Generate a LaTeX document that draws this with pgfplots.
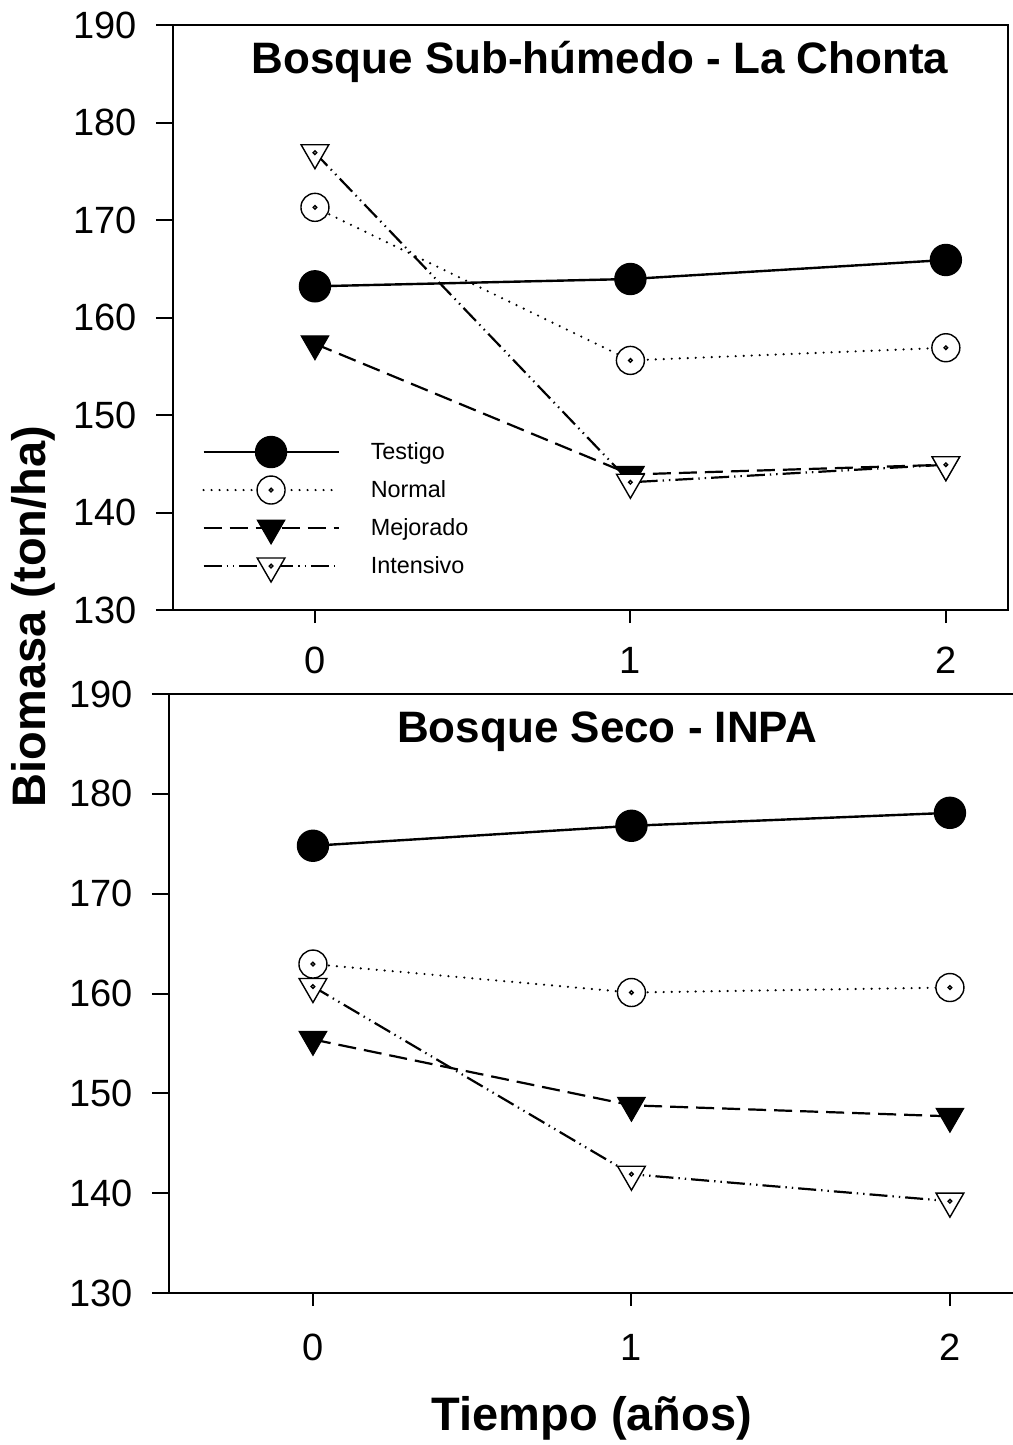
\documentclass[border=0pt]{standalone}
\usepackage{fontspec}
\setmainfont{Liberation Sans}
\usepackage{pgfplots}
\pgfplotsset{compat=1.18}

% open marks with a small dot in the middle
\pgfdeclareplotmark{dotcircle}{%
  \pgfpathcircle{\pgfpointorigin}{\pgfplotmarksize}\pgfusepathqfillstroke
  \pgfpathcircle{\pgfpointorigin}{0.9pt}\pgfusepathqstroke}
\pgfdeclareplotmark{dottri}{%
  \pgfpathmoveto{\pgfpointpolar{-90}{\pgfplotmarksize}}%
  \pgfpathlineto{\pgfpointpolar{30}{\pgfplotmarksize}}%
  \pgfpathlineto{\pgfpointpolar{150}{\pgfplotmarksize}}%
  \pgfpathclose\pgfusepathqfillstroke
  \pgfpathcircle{\pgfpointorigin}{0.9pt}\pgfusepathqstroke}
\pgfdeclareplotmark{ftri}{%
  \pgfpathmoveto{\pgfpointpolar{-90}{\pgfplotmarksize}}%
  \pgfpathlineto{\pgfpointpolar{30}{\pgfplotmarksize}}%
  \pgfpathlineto{\pgfpointpolar{150}{\pgfplotmarksize}}%
  \pgfpathclose\pgfusepathqfillstroke}

\pgfplotsset{
  panel/.style={
    scale only axis,
    axis line style={line width=1pt},
    ymin=130, ymax=190,
    ytick={130,140,...,190},
    xtick={0,1,2},
    xtick pos=bottom, ytick pos=left,
    tick align=outside,
    major tick length=8.5pt,
    tick style={line width=1pt, black},
    xtick style={/pgfplots/major tick length=6.5pt},
    ticklabel style={font=\fontsize{19}{22}\selectfont},
    yticklabel style={xshift=-6pt},
    /pgf/number format/assume math mode=true,
    clip=false,
  },
  testigo/.style={black, line width=1.2pt, mark=*, mark size=7.5pt,
    mark options={solid, fill=black}},
  normal/.style={black, line width=1.2pt, line cap=round,
    dash pattern=on 0pt off 4pt, mark=dotcircle, mark size=7pt,
    mark options={solid, fill=white, line width=0.7pt}},
  mejorado/.style={black, line width=1.1pt, dash pattern=on 9pt off 4pt,
    mark=ftri, mark size=8pt, mark options={solid, fill=black, line width=0.5pt}},
  intensivo/.style={black, line width=1.1pt,
    dash pattern=on 9pt off 2.5pt on 0.7pt off 2.5pt on 0.7pt off 2.5pt,
    mark=dottri, mark size=8pt, mark options={solid, fill=white, line width=0.7pt}},
}

\begin{document}
\begin{tikzpicture}
\useasboundingbox (0,0) rectangle (506pt,-722.5pt);

% --- top panel ---
\begin{axis}[panel,
    at={(86.5pt,-305pt)}, anchor=south west,
    width=417.5pt, height=292.5pt,
    xmin=-0.45, xmax=2.197,
    xticklabel style={yshift=-6.5pt},
    legend cell align=left,
    legend style={draw=none, fill=none,
      at={(0.0275,0.1726)}, anchor=west,
      font=\fontsize{11.7}{14}\selectfont,
      row sep=3pt,
      nodes={inner sep=0pt, minimum height=16pt},
      /tikz/every odd column/.append style={column sep=15.5pt}},
    legend image code/.code={%
      \draw[mark repeat=2, mark phase=2] plot coordinates {(0pt,0pt) (33.75pt,0pt) (67.5pt,0pt)};},
  ]
  \addplot[testigo] coordinates {(0,163.2) (1,163.95) (2,165.9)};
  \addlegendentry{Testigo}
  \addplot[normal] coordinates {(0,171.3) (1,155.6) (2,156.9)};
  \addlegendentry{Normal}
  \addplot[mejorado] coordinates {(0,157.3) (1,143.9) (2,144.9)};
  \addlegendentry{Mejorado}
  \addplot[intensivo] coordinates {(0,176.9) (1,143.1) (2,144.9)};
  \addlegendentry{Intensivo}
\end{axis}

% --- bottom panel (frame runs past the right edge) ---
\begin{axis}[panel,
    at={(84.5pt,-646.5pt)}, anchor=south west,
    width=425.5pt, height=299.5pt,
    xmin=-0.452, xmax=2.22,
    xticklabel style={yshift=-8.5pt},
  ]
  \addplot[testigo] coordinates {(0,174.8) (1,176.8) (2,178.1)};
  \addplot[normal] coordinates {(0,162.95) (1,160.1) (2,160.6)};
  \addplot[mejorado] coordinates {(0,155.4) (1,148.8) (2,147.7)};
  \addplot[intensivo] coordinates {(0,160.7) (1,141.9) (2,139.2)};
\end{axis}

\node[font=\bfseries\fontsize{22}{26}\selectfont] at (300pt,-31pt) {Bosque Sub-húmedo - La Chonta};
\node[font=\bfseries\fontsize{22}{26}\selectfont] at (303.5pt,-366pt) {Bosque Seco - INPA};
\node[font=\bfseries\fontsize{23.5}{28}\selectfont, rotate=90] at (16.5pt,-308.25pt) {Biomasa (ton/ha)};
\node[font=\bfseries\fontsize{23.5}{28}\selectfont] at (296pt,-709pt) {Tiempo (años)};
\end{tikzpicture}
\end{document}
